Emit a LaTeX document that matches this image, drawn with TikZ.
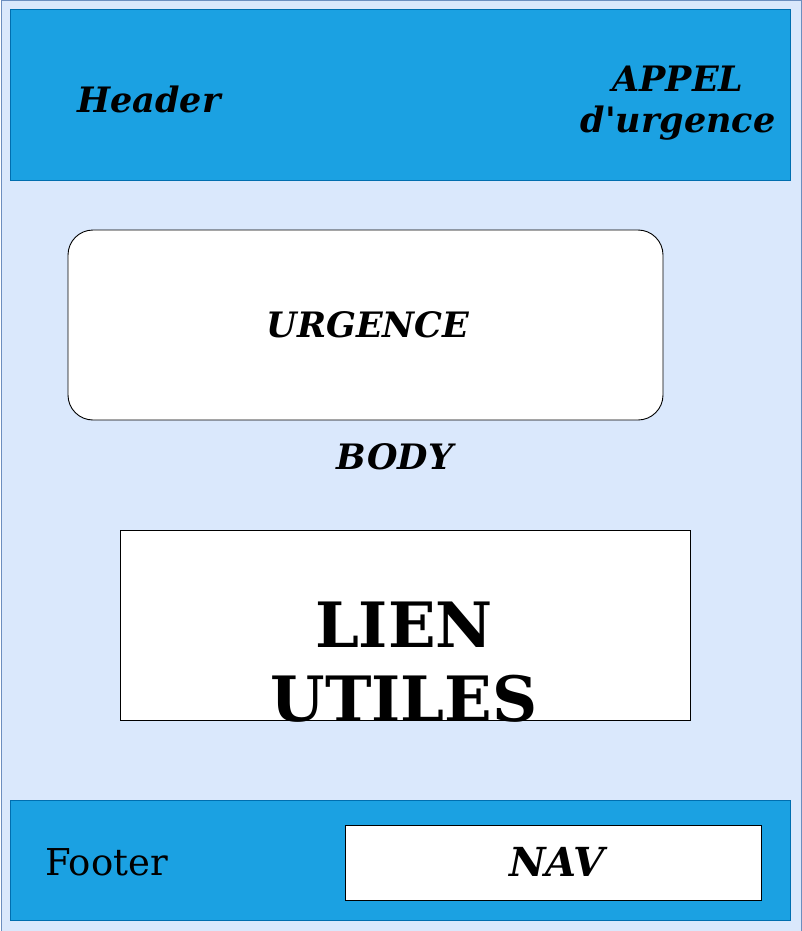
\documentclass[tikz,border=0pt]{standalone}
\usepackage{fontspec}
\setmainfont{DejaVu Serif}
\definecolor{pagefill}{HTML}{DAE8FC}
\definecolor{pageline}{HTML}{6C8EBF}
\definecolor{bandfill}{HTML}{1BA1E2}
\definecolor{bandline}{HTML}{006EAF}
\begin{document}
\begin{tikzpicture}[x=1pt,y=-1pt,
  band/.style={draw=bandline, fill=bandfill, line width=1pt, anchor=north west, inner sep=0pt, outer sep=0pt},
  card/.style={draw=black, fill=white, line width=0.9pt, anchor=north west, inner sep=0pt, outer sep=0pt},
  lbl/.style={font=\fontsize{35}{41}\selectfont\bfseries\itshape, inner sep=0pt, align=center},
  plain/.style={font=\fontsize{37}{43}\selectfont, inner sep=0pt},
  big/.style={font=\fontsize{62.5}{74}\selectfont\bfseries, inner sep=0pt, align=center},
]
\useasboundingbox (0,0) rectangle (802,931);
% page background
\node[draw=pageline, fill=pagefill, line width=1pt, anchor=north west, inner sep=0pt,
      minimum width=800pt, minimum height=930pt] (page) at (0.5,0.5) {};
% header band
\node[band, minimum width=780pt, minimum height=170pt] (header) at (10,10) {};
\node[lbl, anchor=base] (headertxt) at (149,113) {Header};
\node[lbl] (appel) at (678,103.5) {APPEL\\d\textquotesingle urgence};
% body blocks
\node[card, rounded corners=25pt, minimum width=595pt, minimum height=190pt] (urgence) at (68,230) {};
\node[lbl, anchor=base] (urgencetxt) at (368,337) {URGENCE};
\node[lbl, anchor=base] (body) at (395,469) {BODY};
\node[card, minimum width=570pt, minimum height=190pt] (liens) at (120,530) {};
\node[big] (lienstxt) at (404,662) {LIEN\\UTILES};
% footer band
\node[band, minimum width=780pt, minimum height=120pt] (footer) at (10,800) {};
\node[plain, anchor=base] (footertxt) at (106.5,875) {Footer};
\node[card, minimum width=416pt, minimum height=75pt] (nav) at (345,825) {};
\node[lbl, anchor=base, font=\fontsize{40}{46}\selectfont\bfseries\itshape] (navtxt) at (557,876) {NAV};
\end{tikzpicture}
\end{document}
